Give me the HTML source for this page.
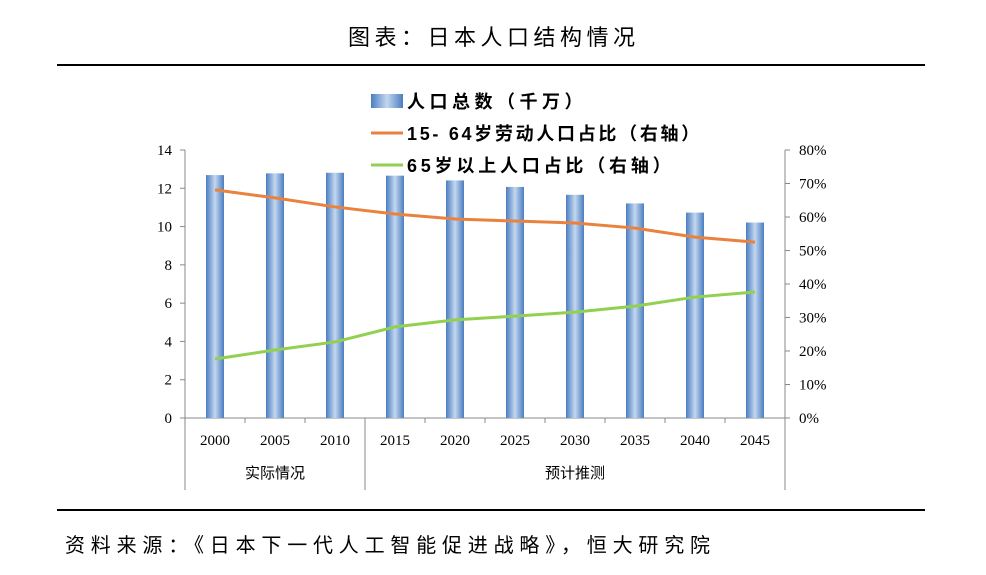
<!DOCTYPE html>
<html><head><meta charset="utf-8">
<style>
body{margin:0;background:#fff;width:986px;height:570px;overflow:hidden;font-family:"Liberation Sans","Noto Sans CJK SC",sans-serif;}
svg text{font-family:"Liberation Serif","Noto Sans CJK SC",serif;}
.cjk{font-family:"Liberation Sans","Noto Sans CJK SC",sans-serif !important;}
</style></head><body>
<svg width="986" height="570">
<defs>
<linearGradient id="bg" x1="0" x2="1" y1="0" y2="0">
<stop offset="0" stop-color="#4a7ebf"/><stop offset="0.5" stop-color="#c3d7f0"/><stop offset="1" stop-color="#4a7ebf"/>
</linearGradient>
</defs>
<text class="cjk" x="348" y="45" font-size="22" letter-spacing="4.5" fill="#000">图表：日本人口结构情况</text>
<line x1="57" x2="925" y1="65" y2="65" stroke="#000" stroke-width="2"/>
<line x1="57" x2="925" y1="510" y2="510" stroke="#000" stroke-width="2"/>
<text class="cjk" x="65" y="552" font-size="20" letter-spacing="5.8" fill="#000">资料来源：《日本下一代人工智能促进战略》，恒大研究院</text>
<g id="plot"></g>
</svg>
<script>
const categories=["2000","2005","2010","2015","2020","2025","2030","2035","2040","2045"];
const population=[12.69,12.78,12.81,12.66,12.41,12.07,11.66,11.21,10.73,10.21];
const workingAge=[68.1,65.7,63.0,60.9,59.4,58.8,58.2,56.7,54.0,52.5];
const elderly=[17.6,20.3,22.7,27.2,29.3,30.4,31.6,33.4,36.1,37.6];
const leftTicks=[0,2,4,6,8,10,12,14];
const rightTicks=[0,10,20,30,40,50,60,70,80];
const groups=[{label:"实际情况",from:0,to:3},{label:"预计推测",from:3,to:10}];

const NS="http://www.w3.org/2000/svg";
const g=document.getElementById('plot');
const X0=185,X1=785,Y0=418,Y1=150;
const step=(X1-X0)/categories.length;
const xc=i=>X0+step*(i+0.5);
const yL=v=>Y0-(v/14)*(Y0-Y1);
const yR=v=>Y0-(v/80)*(Y0-Y1);
function mk(t,a,txt){const e=document.createElementNS(NS,t);for(const k in a)e.setAttribute(k,a[k]);if(txt!==undefined)e.textContent=txt;g.appendChild(e);return e;}
let e=mk('line',{x1:X0,x2:X0,y1:Y1,y2:Y0,stroke:'#888'});

e=mk('line',{x1:X1,x2:X1,y1:Y1,y2:Y0,stroke:'#888'});

e=mk('line',{x1:X0,x2:X1,y1:Y0,y2:Y0,stroke:'#888'});

leftTicks.forEach(v=>{mk('line',{x1:X0-5,x2:X0,y1:yL(v),y2:yL(v),stroke:'#888'});
 e=mk('text',{x:X0-13,y:yL(v)+5,'text-anchor':'end','font-size':15},v);
 });
rightTicks.forEach(v=>{mk('line',{x1:X1,x2:X1+5,y1:yR(v),y2:yR(v),stroke:'#888'});
 e=mk('text',{x:X1+14,y:yR(v)+5,'font-size':15},v+'%');
 });
[0,3,10].forEach(i=>{mk('line',{x1:X0+step*i,x2:X0+step*i,y1:Y0,y2:490,stroke:'#888'});});
for(let i=1;i<10;i++)if(i!==3)mk('line',{x1:X0+step*i,x2:X0+step*i,y1:Y0,y2:Y0+5,stroke:'#888'});
categories.forEach((c,i)=>{e=mk('text',{x:xc(i),y:445,'text-anchor':'middle','font-size':15},c);
 });
groups.forEach(gr=>{e=mk('text',{x:X0+step*(gr.from+gr.to)/2,y:478,'text-anchor':'middle','font-size':15,class:'cjk'},gr.label);
 });
population.forEach((v,i)=>{e=mk('rect',{x:xc(i)-9,y:yL(v),width:18,height:Y0-yL(v),fill:'url(#bg)'});
 });
e=mk('polyline',{points:workingAge.map((v,i)=>xc(i)+','+yR(v)).join(' '),fill:'none',stroke:'#e9823f','stroke-width':3});

e=mk('polyline',{points:elderly.map((v,i)=>xc(i)+','+yR(v)).join(' '),fill:'none',stroke:'#92d050','stroke-width':3});

e=mk('rect',{x:371,y:94,width:32,height:14,fill:'url(#bg)'});

e=mk('text',{x:407,y:108,'font-size':18,'font-weight':'bold','letter-spacing':4.5,class:'cjk'},'人口总数（千万）');

e=mk('line',{x1:371,x2:403,y1:133,y2:133,stroke:'#e9823f','stroke-width':3});

e=mk('text',{x:407,y:140,'font-size':18,'font-weight':'bold','letter-spacing':2.7,class:'cjk'},'15- 64岁劳动人口占比（右轴）');

e=mk('line',{x1:371,x2:403,y1:165,y2:165,stroke:'#92d050','stroke-width':3});

e=mk('text',{x:407,y:172,'font-size':18,'font-weight':'bold','letter-spacing':3.8,class:'cjk'},'65岁以上人口占比（右轴）');

</script>
</body></html>
